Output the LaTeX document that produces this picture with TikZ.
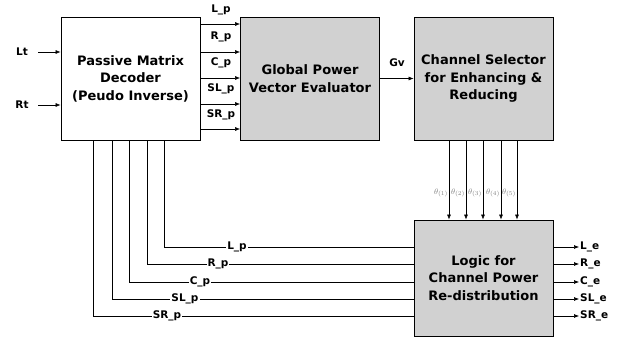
\documentclass[tikz,border=0pt]{standalone}
\usepackage{fontspec}
\setmainfont{DejaVu Sans}
\usetikzlibrary{arrows.meta}
\begin{document}
\begin{tikzpicture}[x=1pt,y=-1pt,
  blk/.style={draw, line width=0.8pt, minimum width=139pt, minimum height=123pt, align=center,
    font=\fontsize{13}{17.5}\selectfont\bfseries, inner sep=0pt},
  shaded/.style={fill=black!18},
  sig/.style={font=\fontsize{10.5}{12}\selectfont\bfseries, inner sep=1pt},
  arr/.style={-{Latex[length=5pt,width=4pt]}, line width=0.6pt},
  wire/.style={line width=0.6pt},
  thlab/.style={font=\fontsize{8.5}{9}\selectfont, text=black!50, inner sep=0pt}]
\useasboundingbox (0,0) rectangle (633,347);

% blocks
\node[blk] (dec) at (130.5,78.5) {Passive Matrix\\Decoder\\(Peudo Inverse)};
\node[blk,shaded] (gpv) at (310,78.5) {Global Power\\Vector Evaluator};
\node[blk,shaded] (cs) at (483.5,78.5) {Channel Selector\\for Enhancing \&\\Reducing};
\node[blk,shaded,minimum height=116pt] (lg) at (483.5,278) {Logic for\\Channel Power\\Re-distribution};

% inputs
\node[sig] (lt) at (22,52) {Lt};
\node[sig] (rt) at (22,105) {Rt};
\coordinate (ltin) at (38,52);
\coordinate (rtin) at (38,105);
\draw[arr] (ltin) -- (dec.west |- ltin);
\draw[arr] (rtin) -- (dec.west |- rtin);

% decoder -> evaluator
\foreach \i/\y/\lab/\ly in {1/24/L\_p/10, 2/52/R\_p/37, 3/78/C\_p/63, 4/104/SL\_p/89, 5/129/SR\_p/115}{
  \coordinate (t\i) at (0,\y);
  \draw[arr] (dec.east |- t\i) -- (gpv.west |- t\i);
  \node[sig] (tl\i) at (221,\ly) {\lab};
}

% Gv
\draw[arr] (gpv.east) -- (cs.west);
\node[sig] (gv) at (397,63) {Gv};

% decoder -> logic wires
\foreach \i/\x/\y/\lab/\lx in {1/164/247/L\_p/237, 2/147/264/R\_p/218, 3/129/282/C\_p/200, 4/112/299/SL\_p/185, 5/93/316/SR\_p/167}{
  \coordinate (bx\i) at (\x,0);
  \coordinate (by\i) at (0,\y);
  \draw[wire] (dec.south -| bx\i) |- (lg.west |- by\i);
  \node[sig, fill=white] (bl\i) at (\lx,\y) {\lab};
}

% selector -> logic
\foreach \i/\x in {1/449, 2/466, 3/483, 4/501, 5/517}{
  \coordinate (sx\i) at (\x,0);
  \draw[arr] (cs.south -| sx\i) -- (lg.north -| sx\i);
  \node[thlab] (th\i) at (\x-8,193) {$\theta_{(\i)}$};
}

% outputs
\foreach \i/\y/\lab in {1/247/L\_e, 2/264/R\_e, 3/282/C\_e, 4/299/SL\_e, 5/316/SR\_e}{
  \coordinate (oe\i) at (579,\y);
  \draw[arr] (lg.east |- oe\i) -- (oe\i);
  \node[sig, anchor=west] (ol\i) at (oe\i) {\lab};
}
\end{tikzpicture}
\end{document}
